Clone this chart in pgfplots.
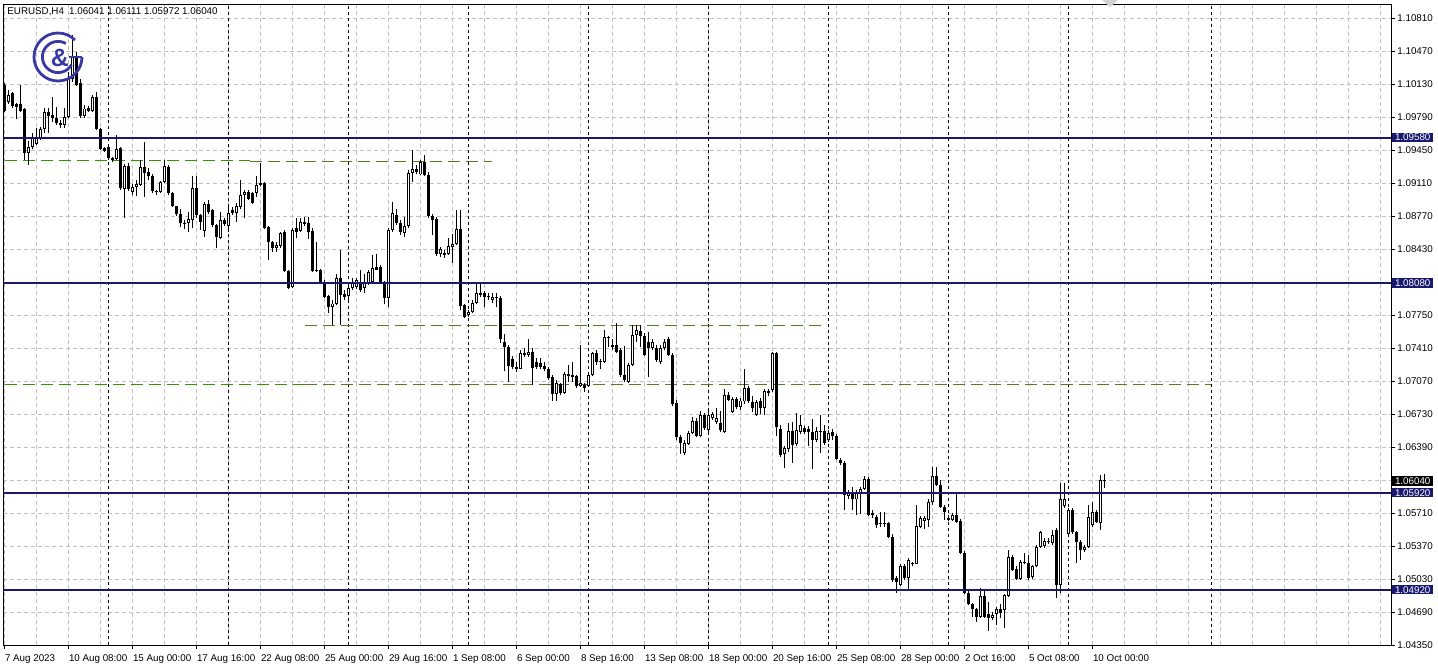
\documentclass[border=0pt]{standalone}
\usepackage{fontspec}
\setmainfont{Liberation Sans}
\usepackage{pgfplots}
\usepackage{pgfplotstable}
\pgfplotsset{compat=1.18}
\definecolor{navyc}{RGB}{25,25,112}
\definecolor{gridc}{RGB}{192,192,192}
\definecolor{greenc}{RGB}{50,150,0}
\definecolor{greend}{RGB}{80,125,30}
\definecolor{logoc}{RGB}{55,58,165}

\pgfplotstableread{
i o h l c
4 1.1012 1.1014 1.0984 1.0985
5 1.0995 1.1007 1.0993 1.1002
6 1.1004 1.1005 1.0989 1.0991
7 1.0993 1.0994 1.0977 1.0990
8 1.0993 1.1012 1.0984 1.0985
9 1.0987 1.0989 1.0935 1.0942
10 1.0942 1.0954 1.0930 1.0948
11 1.0948 1.0963 1.0946 1.0958
12 1.0951 1.0968 1.0950 1.0959
13 1.0958 1.0969 1.0956 1.0967
14 1.0967 1.0989 1.0963 1.0984
15 1.0984 1.0989 1.0963 1.0980
16 1.0981 1.1000 1.0974 1.0978
17 1.0978 1.0990 1.0971 1.0973
18 1.0973 1.0976 1.0968 1.0971
19 1.0971 1.0989 1.0968 1.0979
20 1.0979 1.1026 1.0978 1.1018
21 1.1018 1.1064 1.1015 1.1041
22 1.1040 1.1046 1.1011 1.1012
23 1.1014 1.1018 1.0978 1.0980
24 1.0980 1.0992 1.0978 1.0988
25 1.0989 1.0991 1.0984 1.0985
26 1.0985 1.1002 1.0984 1.1000
27 1.1000 1.1005 1.0966 1.0967
28 1.0967 1.0968 1.0945 1.0946
29 1.0947 1.0948 1.0943 1.0944
30 1.0948 1.0950 1.0935 1.0937
31 1.0937 1.0938 1.0933 1.0935
32 1.0936 1.0961 1.0935 1.0946
33 1.0947 1.0948 1.0904 1.0906
34 1.0905 1.0931 1.0875 1.0929
35 1.0929 1.0932 1.0903 1.0905
36 1.0902 1.0910 1.0899 1.0907
37 1.0907 1.0914 1.0898 1.0910
38 1.0909 1.0935 1.0908 1.0928
39 1.0928 1.0953 1.0897 1.0922
40 1.0923 1.0927 1.0914 1.0918
41 1.0918 1.0921 1.0901 1.0903
42 1.0903 1.0904 1.0899 1.0902
43 1.0902 1.0913 1.0901 1.0912
44 1.0912 1.0935 1.0911 1.0929
45 1.0928 1.0930 1.0899 1.0901
46 1.0901 1.0902 1.0886 1.0887
47 1.0887 1.0888 1.0877 1.0879
48 1.0879 1.0884 1.0866 1.0870
49 1.0870 1.0873 1.0864 1.0869
50 1.0870 1.0881 1.0861 1.0874
51 1.0873 1.0918 1.0865 1.0906
52 1.0906 1.0918 1.0875 1.0878
53 1.0878 1.0879 1.0863 1.0871
54 1.0862 1.0892 1.0856 1.0890
55 1.0890 1.0894 1.0879 1.0881
56 1.0883 1.0884 1.0866 1.0868
57 1.0868 1.0869 1.0844 1.0856
58 1.0855 1.0881 1.0853 1.0873
59 1.0873 1.0875 1.0867 1.0869
60 1.0867 1.0887 1.0861 1.0880
61 1.0883 1.0886 1.0878 1.0880
62 1.0880 1.0891 1.0871 1.0887
63 1.0886 1.0914 1.0884 1.0899
64 1.0899 1.0904 1.0875 1.0902
65 1.0902 1.0904 1.0894 1.0895
66 1.0901 1.0902 1.0890 1.0891
67 1.0901 1.0918 1.0897 1.0909
68 1.0909 1.0932 1.0908 1.0911
69 1.0911 1.0912 1.0864 1.0865
70 1.0866 1.0867 1.0832 1.0850
71 1.0850 1.0851 1.0840 1.0844
72 1.0844 1.0850 1.0840 1.0847
73 1.0846 1.0861 1.0844 1.0860
74 1.0861 1.0863 1.0819 1.0820
75 1.0820 1.0822 1.0802 1.0803
76 1.0804 1.0865 1.0803 1.0863
77 1.0865 1.0875 1.0855 1.0861
78 1.0862 1.0875 1.0861 1.0871
79 1.0871 1.0876 1.0867 1.0869
80 1.0870 1.0876 1.0853 1.0861
81 1.0862 1.0865 1.0819 1.0820
82 1.0822 1.0850 1.0819 1.0820
83 1.0822 1.0823 1.0807 1.0809
84 1.0808 1.0811 1.0793 1.0794
85 1.0795 1.0796 1.0777 1.0783
86 1.0783 1.0791 1.0765 1.0787
87 1.0787 1.0817 1.0785 1.0813
88 1.0813 1.0842 1.0765 1.0796
89 1.0797 1.0801 1.0791 1.0794
90 1.0795 1.0808 1.0791 1.0803
91 1.0803 1.0813 1.0801 1.0809
92 1.0804 1.0813 1.0802 1.0811
93 1.0809 1.0822 1.0799 1.0801
94 1.0803 1.0817 1.0798 1.0808
95 1.0808 1.0822 1.0806 1.0819
96 1.0809 1.0837 1.0808 1.0824
97 1.0825 1.0838 1.0822 1.0822
98 1.0825 1.0827 1.0807 1.0809
99 1.0809 1.0810 1.0786 1.0793
100 1.0793 1.0865 1.0783 1.0863
101 1.0863 1.0892 1.0861 1.0880
102 1.0878 1.0884 1.0868 1.0870
103 1.0870 1.0873 1.0858 1.0861
104 1.0860 1.0876 1.0856 1.0867
105 1.0867 1.0925 1.0865 1.0922
106 1.0922 1.0945 1.0912 1.0926
107 1.0926 1.0930 1.0920 1.0923
108 1.0920 1.0935 1.0919 1.0933
109 1.0933 1.0940 1.0918 1.0919
110 1.0919 1.0923 1.0875 1.0877
111 1.0877 1.0879 1.0858 1.0873
112 1.0874 1.0876 1.0836 1.0838
113 1.0838 1.0845 1.0835 1.0843
114 1.0839 1.0842 1.0834 1.0837
115 1.0838 1.0855 1.0837 1.0846
116 1.0845 1.0859 1.0829 1.0848
117 1.0848 1.0883 1.0847 1.0864
118 1.0864 1.0883 1.0780 1.0784
119 1.0785 1.0786 1.0772 1.0773
120 1.0775 1.0780 1.0773 1.0778
121 1.0778 1.0791 1.0777 1.0788
122 1.0788 1.0808 1.0787 1.0798
123 1.0796 1.0808 1.0794 1.0798
124 1.0798 1.0800 1.0783 1.0794
125 1.0795 1.0798 1.0791 1.0794
126 1.0791 1.0798 1.0788 1.0794
127 1.0794 1.0798 1.0783 1.0793
128 1.0793 1.0795 1.0746 1.0750
129 1.0747 1.0756 1.0717 1.0742
130 1.0742 1.0744 1.0706 1.0723
131 1.0730 1.0733 1.0719 1.0722
132 1.0722 1.0727 1.0716 1.0719
133 1.0720 1.0739 1.0719 1.0736
134 1.0734 1.0741 1.0732 1.0736
135 1.0734 1.0750 1.0732 1.0737
136 1.0737 1.0741 1.0703 1.0721
137 1.0727 1.0731 1.0720 1.0722
138 1.0726 1.0731 1.0720 1.0722
139 1.0723 1.0727 1.0717 1.0719
140 1.0720 1.0722 1.0708 1.0710
141 1.0711 1.0713 1.0686 1.0694
142 1.0694 1.0708 1.0686 1.0705
143 1.0704 1.0705 1.0693 1.0695
144 1.0695 1.0716 1.0694 1.0714
145 1.0714 1.0724 1.0706 1.0712
146 1.0713 1.0727 1.0706 1.0711
147 1.0712 1.0713 1.0700 1.0702
148 1.0702 1.0744 1.0701 1.0705
149 1.0703 1.0705 1.0696 1.0700
150 1.0702 1.0716 1.0701 1.0713
151 1.0713 1.0737 1.0712 1.0736
152 1.0736 1.0739 1.0724 1.0727
153 1.0728 1.0730 1.0719 1.0727
154 1.0727 1.0760 1.0726 1.0752
155 1.0752 1.0753 1.0742 1.0751
156 1.0744 1.0750 1.0739 1.0742
157 1.0744 1.0767 1.0736 1.0737
158 1.0739 1.0741 1.0711 1.0713
159 1.0713 1.0743 1.0706 1.0708
160 1.0706 1.0726 1.0705 1.0724
161 1.0724 1.0765 1.0723 1.0755
162 1.0755 1.0765 1.0747 1.0760
163 1.0759 1.0765 1.0742 1.0754
164 1.0753 1.0757 1.0733 1.0734
165 1.0747 1.0758 1.0711 1.0741
166 1.0741 1.0750 1.0739 1.0747
167 1.0741 1.0744 1.0727 1.0729
168 1.0727 1.0744 1.0725 1.0741
169 1.0741 1.0750 1.0739 1.0747
170 1.0750 1.0752 1.0733 1.0734
171 1.0734 1.0736 1.0681 1.0683
172 1.0684 1.0688 1.0646 1.0649
173 1.0649 1.0651 1.0632 1.0643
174 1.0633 1.0646 1.0631 1.0643
175 1.0642 1.0656 1.0641 1.0654
176 1.0654 1.0670 1.0652 1.0666
177 1.0666 1.0669 1.0649 1.0650
178 1.0650 1.0676 1.0649 1.0672
179 1.0672 1.0674 1.0657 1.0659
180 1.0657 1.0678 1.0655 1.0672
181 1.0669 1.0675 1.0667 1.0673
182 1.0665 1.0679 1.0663 1.0669
183 1.0664 1.0676 1.0655 1.0657
184 1.0655 1.0699 1.0654 1.0693
185 1.0693 1.0696 1.0686 1.0688
186 1.0675 1.0691 1.0674 1.0689
187 1.0689 1.0691 1.0678 1.0680
188 1.0680 1.0690 1.0677 1.0687
189 1.0686 1.0719 1.0683 1.0700
190 1.0700 1.0702 1.0684 1.0686
191 1.0685 1.0692 1.0675 1.0679
192 1.0672 1.0688 1.0671 1.0685
193 1.0686 1.0690 1.0673 1.0679
194 1.0679 1.0699 1.0672 1.0697
195 1.0697 1.0699 1.0692 1.0695
196 1.0698 1.0737 1.0696 1.0736
197 1.0736 1.0737 1.0650 1.0660
198 1.0658 1.0662 1.0629 1.0631
199 1.0632 1.0640 1.0617 1.0638
200 1.0637 1.0664 1.0634 1.0656
201 1.0656 1.0665 1.0623 1.0641
202 1.0642 1.0674 1.0640 1.0657
203 1.0655 1.0672 1.0653 1.0662
204 1.0659 1.0661 1.0653 1.0655
205 1.0658 1.0661 1.0640 1.0655
206 1.0655 1.0668 1.0616 1.0646
207 1.0646 1.0660 1.0644 1.0656
208 1.0655 1.0672 1.0633 1.0656
209 1.0656 1.0662 1.0641 1.0643
210 1.0646 1.0657 1.0644 1.0654
211 1.0655 1.0658 1.0646 1.0650
212 1.0650 1.0652 1.0626 1.0627
213 1.0626 1.0628 1.0621 1.0623
214 1.0623 1.0625 1.0574 1.0590
215 1.0589 1.0595 1.0585 1.0592
216 1.0593 1.0598 1.0574 1.0585
217 1.0585 1.0595 1.0569 1.0592
218 1.0592 1.0598 1.0570 1.0596
219 1.0596 1.0609 1.0595 1.0606
220 1.0606 1.0608 1.0568 1.0569
221 1.0569 1.0574 1.0566 1.0571
222 1.0567 1.0569 1.0556 1.0559
223 1.0561 1.0572 1.0557 1.0560
224 1.0561 1.0572 1.0557 1.0560
225 1.0561 1.0562 1.0545 1.0546
226 1.0546 1.0549 1.0500 1.0502
227 1.0504 1.0506 1.0489 1.0500
228 1.0497 1.0518 1.0496 1.0516
229 1.0516 1.0518 1.0502 1.0504
230 1.0504 1.0525 1.0492 1.0523
231 1.0518 1.0521 1.0516 1.0520
232 1.0519 1.0579 1.0518 1.0558
233 1.0557 1.0568 1.0556 1.0566
234 1.0563 1.0568 1.0555 1.0566
235 1.0564 1.0585 1.0557 1.0582
236 1.0582 1.0618 1.0579 1.0609
237 1.0609 1.0618 1.0599 1.0600
238 1.0600 1.0605 1.0576 1.0577
239 1.0577 1.0579 1.0564 1.0572
240 1.0566 1.0569 1.0563 1.0564
241 1.0564 1.0571 1.0563 1.0569
242 1.0569 1.0592 1.0561 1.0562
243 1.0563 1.0565 1.0529 1.0530
244 1.0530 1.0532 1.0488 1.0489
245 1.0489 1.0491 1.0476 1.0477
246 1.0477 1.0478 1.0464 1.0472
247 1.0472 1.0473 1.0459 1.0464
248 1.0464 1.0494 1.0463 1.0486
249 1.0486 1.0492 1.0463 1.0464
250 1.0467 1.0479 1.0449 1.0463
251 1.0463 1.0469 1.0461 1.0466
252 1.0467 1.0474 1.0456 1.0472
253 1.0472 1.0477 1.0463 1.0468
254 1.0471 1.0488 1.0453 1.0487
255 1.0486 1.0533 1.0485 1.0526
256 1.0526 1.0528 1.0511 1.0512
257 1.0513 1.0516 1.0502 1.0503
258 1.0503 1.0523 1.0502 1.0521
259 1.0520 1.0530 1.0518 1.0521
260 1.0520 1.0528 1.0502 1.0504
261 1.0505 1.0517 1.0503 1.0516
262 1.0516 1.0538 1.0515 1.0536
263 1.0536 1.0553 1.0535 1.0551
264 1.0537 1.0545 1.0535 1.0542
265 1.0542 1.0545 1.0539 1.0541
266 1.0540 1.0554 1.0538 1.0548
267 1.0554 1.0556 1.0483 1.0497
268 1.0497 1.0602 1.0489 1.0585
269 1.0578 1.0602 1.0576 1.0585
270 1.0549 1.0576 1.0546 1.0574
271 1.0574 1.0576 1.0549 1.0551
272 1.0551 1.0553 1.0520 1.0541
273 1.0541 1.0543 1.0523 1.0533
274 1.0533 1.0538 1.0531 1.0536
275 1.0536 1.0579 1.0535 1.0567
276 1.0559 1.0582 1.0557 1.0572
277 1.0572 1.0574 1.0561 1.0562
278 1.0561 1.0610 1.0554 1.0605
279 1.06041 1.06111 1.05972 1.06040
}\candles

\begin{document}
\begin{tikzpicture}
\useasboundingbox (-1.5pt,-13pt) rectangle (717.5pt,322.5pt);
\begin{axis}[
  at={(0pt,0pt)}, anchor=south west,
  scale only axis, width=694pt, height=320pt,
  xmin=3.75, xmax=350.75, ymin=1.0435, ymax=1.10947,
  clip=false,
  axis line style={black, line width=0.5pt},
  tick align=outside,
  major tick length=2pt,
  minor tick length=0pt,
  every tick/.style={black, line width=0.5pt},
  xtick pos=bottom, ytick pos=right, yticklabel pos=right,
  scaled y ticks=false,
  /pgf/number format/assume math mode=true,
  xtick={4,20,...,276},
  xticklabels={7 Aug 2023,10 Aug 08:00,15 Aug 00:00,17 Aug 16:00,22 Aug 08:00,25 Aug 00:00,29 Aug 16:00,1 Sep 08:00,6 Sep 00:00,8 Sep 16:00,13 Sep 08:00,18 Sep 00:00,20 Sep 16:00,25 Sep 08:00,28 Sep 00:00,2 Oct 16:00,5 Oct 08:00,10 Oct 00:00},
  minor xtick={4,12,...,348},
  ytick={1.10810,1.10470,1.10130,1.09790,1.09450,1.09110,1.08770,1.08430,1.08090,1.07750,1.07410,1.07070,1.06730,1.06390,1.06050,1.05710,1.05370,1.05030,1.04690,1.04350},
  yticklabels={1.10810,1.10470,1.10130,1.09790,1.09450,1.09110,1.08770,1.08430,,1.07750,1.07410,1.07070,1.06730,1.06390,,1.05710,1.05370,1.05030,1.04690,1.04350},
  xmajorgrids, xminorgrids, ymajorgrids,
  grid style={gridc, dash pattern=on 2pt off 1.5pt, line width=0.5pt},
  tick label style={font=\fontsize{4.9}{5}\selectfont, black},
  xticklabel style={anchor=north west, inner sep=0pt, xshift=0.3pt, yshift=-2.5pt},
  yticklabel style={anchor=west, inner sep=0pt, xshift=1pt},
  extra x ticks={30,60,90,120,150,180,210,240,270,305.75},
  extra x tick labels={},
  extra x tick style={grid=major, major grid style={black, dash pattern=on 1.5pt off 1.5pt, line width=0.5pt}, major tick length=0pt},
]
% support / resistance lines (dashed green)
\addplot[draw=greenc, line width=0.5pt, dash pattern=on 6pt off 3pt, no marks, forget plot] coordinates {(4.25,1.09344) (65.5,1.09344)};
\addplot[draw=greend, line width=0.5pt, dash pattern=on 6pt off 3pt, no marks, forget plot] coordinates {(65.5,1.09334) (126,1.09334)};
\addplot[draw=greend, line width=0.5pt, dash pattern=on 6pt off 3pt, no marks, forget plot] coordinates {(79.25,1.07643) (209.25,1.07643)};
\addplot[draw=greenc, line width=0.5pt, dash pattern=on 6pt off 3pt, no marks, forget plot] coordinates {(4.25,1.07035) (79.25,1.07035)};
\addplot[draw=greend, line width=0.5pt, dash pattern=on 6pt off 3pt, no marks, forget plot] coordinates {(79.25,1.07035) (305.75,1.07035)};
% wicks
\addplot[draw=none, no marks, forget plot,
  error bars/.cd, y dir=plus, y explicit, error mark=none,
  error bar style={draw=black, solid, line width=0.5pt}]
  table[x=i, y=l, y error plus expr={\thisrow{h}-\thisrow{l}}] {\candles};
% bodies
\addplot[draw=none, no marks, forget plot,
  error bars/.cd, y dir=plus, y explicit, error mark=none,
  error bar style={draw=black, solid, line width=1.5pt}]
  table[x=i, y expr={min(\thisrow{o},\thisrow{c})}, y error plus expr={max(abs(\thisrow{c}-\thisrow{o}),0.00008)}] {\candles};
% hollow interior of bullish bodies
\addplot[draw=none, no marks, forget plot,
  error bars/.cd, y dir=plus, y explicit, error mark=none,
  error bar style={draw=white, solid, line width=0.5pt}]
  table[x=i, y expr={\thisrow{o}+0.0001}, y error plus expr={max(\thisrow{c}-\thisrow{o}-0.0002,0)}] {\candles};
% horizontal levels (navy)
\addplot[draw=navyc, line width=1pt, no marks, forget plot] coordinates {(3.75,1.0958) (350.75,1.0958)};
\addplot[draw=navyc, line width=1pt, no marks, forget plot] coordinates {(3.75,1.0808) (350.75,1.0808)};
\addplot[draw=navyc, line width=1pt, no marks, forget plot] coordinates {(3.75,1.0592) (350.75,1.0592)};
\addplot[draw=navyc, line width=1pt, no marks, forget plot] coordinates {(3.75,1.0492) (350.75,1.0492)};
% price boxes on the scale
\tikzset{pbox/.style={anchor=west, text=white, inner xsep=1.4pt, inner ysep=0.6pt, xshift=0.4pt, font=\fontsize{4.9}{5}\selectfont}}
\node[pbox, fill=navyc] at (axis cs:350.75,1.0958) {1.09580};
\node[pbox, fill=navyc] at (axis cs:350.75,1.0808) {1.08080};
\node[pbox, fill=black] at (axis cs:350.75,1.0604) {1.06040};
\node[pbox, fill=navyc] at (axis cs:350.75,1.0592) {1.05920};
\node[pbox, fill=navyc] at (axis cs:350.75,1.0492) {1.04920};
\end{axis}
% title
\node[anchor=north west, inner sep=0pt, font=\fontsize{4.9}{5}\selectfont] at (2pt,319pt) {EURUSD,H4\hspace{2.6pt}1.06041 1.06111 1.05972 1.06040};
% logo
\begin{scope}[logoc, line width=1.4pt]
  \draw ([shift={(45:12pt)}]27.5pt,294pt) arc[start angle=45, end angle=360, radius=12pt];
  \draw ([shift={(60:7.8pt)}]27.5pt,294pt) arc[start angle=60, end angle=330, radius=7.8pt];
  \draw (39.5pt,294pt) -- (33pt,294pt);
  \node[logoc, inner sep=0pt, font=\fontsize{12.5}{12.5}\selectfont\bfseries] at (28.5pt,293.5pt) {\&};
\end{scope}
% chart shift marker
\fill[gray!35] (549.5pt,322.5pt) -- (557.5pt,322.5pt) -- (553.5pt,319pt) -- cycle;
\end{tikzpicture}
\end{document}
